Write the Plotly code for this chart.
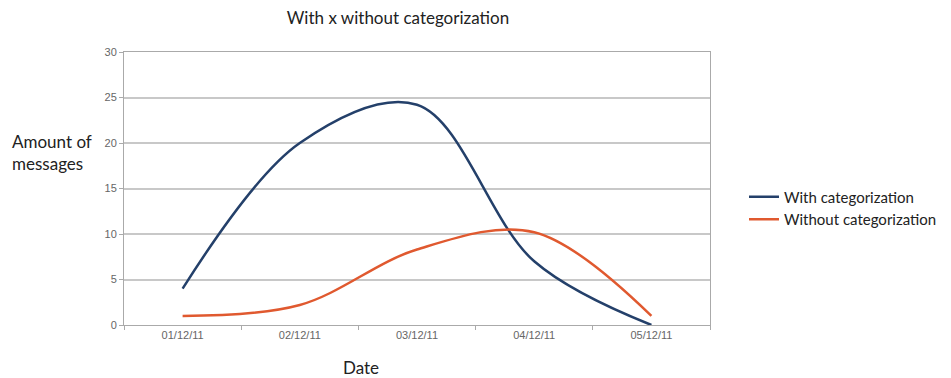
import plotly.graph_objects as go

dates = ["01/12/11", "02/12/11", "03/12/11", "04/12/11", "05/12/11"]
with_cat = [4, 20, 24.2, 7, 0]
without_cat = [1, 2.2, 8.3, 10.2, 1]
y_ticks = [0, 5, 10, 15, 20, 25, 30]

W, H = 943, 370          # page body adds an 8px offset
L, T, R, B = 116, 44, 241, 53
PW, PH = W - L - R, H - T - B

fig = go.Figure()
fig.add_trace(go.Scatter(x=dates, y=with_cat, mode="lines", name="With categorization",
                         line=dict(color="#24406a", width=2.5, shape="spline", smoothing=1.0)))
fig.add_trace(go.Scatter(x=dates, y=without_cat, mode="lines", name="Without categorization",
                         line=dict(color="#e0592f", width=2.5, shape="spline", smoothing=1.0)))

txt_font = "Lato, Open Sans, sans-serif"
tick_font = dict(family="Liberation Sans, Arial, sans-serif", size=11, color="#666666")

fig.update_layout(
    width=W, height=H,
    margin=dict(l=L, r=R, t=T, b=B, autoexpand=False),
    paper_bgcolor="white", plot_bgcolor="white",
    font=dict(family=txt_font, color="#333333"),
    title=dict(text="With x without categorization", x=(398 - 8) / W, xanchor="center",
               y=1 - (18 - 8) / H, yanchor="middle", font=dict(size=17, color="#222222")),
    legend=dict(x=(744 - 8 - L) / PW, y=1 - (208 - 8 - T) / PH, yanchor="middle", xanchor="left",
                font=dict(size=15, color="#222222"), bgcolor="rgba(0,0,0,0)",
                itemwidth=30),
    showlegend=True,
)
fig.update_xaxes(type="category", tickson="boundaries", ticks="outside", ticklen=4,
                 tickcolor="#aaaaaa", showgrid=False, showline=True, linecolor="#aaaaaa",
                 mirror=True, tickfont=tick_font, range=[-0.5, 4.5])
fig.update_yaxes(range=[0, 30], tickvals=y_ticks, ticks="outside", ticklen=4,
                 tickcolor="#aaaaaa", showgrid=True, gridcolor="#c8c8c8", gridwidth=1.5,
                 showline=True, linecolor="#aaaaaa", mirror=True, zeroline=False,
                 tickfont=tick_font)

fig.add_annotation(text="Amount of<br>messages", xref="paper", yref="paper",
                   x=(2 - L) / PW, y=1 - (152 - 8 - T) / PH, xanchor="left", yanchor="middle",
                   align="left", showarrow=False, font=dict(size=17, color="#222222"))
fig.add_annotation(text="Date", xref="paper", yref="paper",
                   x=(361 - 8 - L) / PW, y=-(367 - 8 - T - PH) / PH, xanchor="center", yanchor="middle",
                   showarrow=False, font=dict(size=17, color="#222222"))

fig.write_html("out.html")
